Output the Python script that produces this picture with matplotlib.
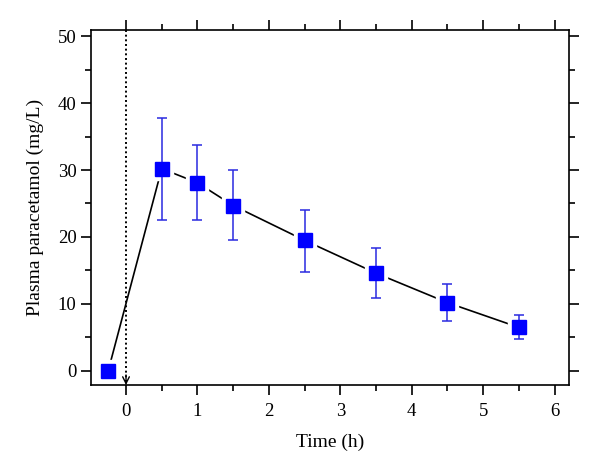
import matplotlib
matplotlib.use("Agg")
import matplotlib.pyplot as plt
from matplotlib.ticker import MultipleLocator

plt.rcParams['font.family'] = ['Liberation Serif', 'DejaVu Serif']

time_h = [-0.25, 0.5, 1.0, 1.5, 2.5, 3.5, 4.5, 5.5]
conc = [0.0, 30.2, 28.1, 24.7, 19.5, 14.6, 10.2, 6.5]
err_low = [0.0, 22.6, 22.5, 19.5, 14.8, 10.9, 7.4, 4.7]
err_high = [0.0, 37.8, 33.8, 30.0, 24.1, 18.4, 13.0, 8.3]

fig = plt.figure(figsize=(6, 4.72), dpi=100)
ax = fig.add_axes([0.1517, 0.1843, 0.7963, 0.7521])
ax.set_xlim(-0.49, 6.2)
ax.set_ylim(-2.1, 50.9)

# connecting line
ax.plot(time_h, conc, color='black', lw=1.2, zorder=1)
# white halos to create gaps
ax.plot(time_h, conc, ls='none', marker='s', ms=16, mfc='white', mec='white', zorder=2)
# error bars (skip first)
yerr = [[c - l for c, l in zip(conc[1:], err_low[1:])],
        [h - c for c, h in zip(conc[1:], err_high[1:])]]
ax.errorbar(time_h[1:], conc[1:], yerr=yerr, fmt='none', ecolor='#2a2ae0',
            elinewidth=1.1, capsize=3.5, capthick=1.1, zorder=3)
ax.plot(time_h, conc, ls='none', marker='s', ms=9.5, mfc='#0000ff', mec='#0000ff', zorder=4)

# dotted vertical line at dosing time with arrow
ax.plot([0, 0], [50.9, -2.1], ls=(0, (1.0, 1.4)), color='black', lw=1.4, zorder=0)
ax.annotate('', xy=(0, -2.1), xytext=(0, -0.6),
            arrowprops=dict(arrowstyle='->', color='black', lw=1.0,
                            mutation_scale=12, shrinkA=0, shrinkB=0))

ax.xaxis.set_major_locator(MultipleLocator(1))
ax.xaxis.set_minor_locator(MultipleLocator(0.5))
ax.yaxis.set_major_locator(MultipleLocator(10))
ax.yaxis.set_minor_locator(MultipleLocator(5))
ax.tick_params(which='both', direction='out', top=True, right=True,
               labeltop=False, labelright=False, width=1.2, labelsize=13.5)
ax.tick_params(which='major', length=7)
ax.tick_params(which='minor', length=4)
ax.tick_params(axis='x', which='major', pad=6)
for s in ax.spines.values():
    s.set_linewidth(1.2)

ax.set_xlabel('Time (h)', fontsize=14, labelpad=10)
ax.set_ylabel('Plasma paracetamol (mg/L)', fontsize=14, labelpad=10)

fig.savefig('out.png', dpi=100)
